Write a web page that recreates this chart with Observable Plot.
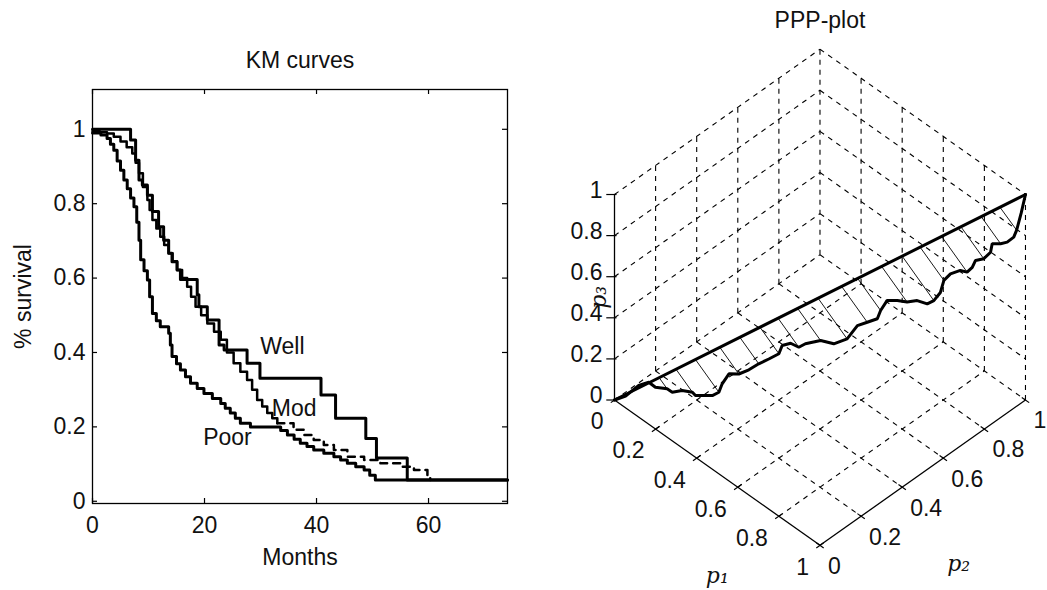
<!DOCTYPE html>
<html><head><meta charset="utf-8">
<script src="https://cdn.jsdelivr.net/npm/d3@7"></script>
<script src="https://cdn.jsdelivr.net/npm/@observablehq/plot@0.6"></script>
<style>
html,body{margin:0;padding:0;background:#fff;}
#wrap{position:relative;width:1047px;height:590px;overflow:hidden;background:#fff;}
#km{position:absolute;left:0;top:0;}
#ppp{position:absolute;left:530px;top:0;}
</style></head>
<body><div id="wrap"><div id="km"></div><div id="ppp"></div></div>
<script>
const FONT = '"Liberation Sans", Arial, Helvetica, sans-serif';
const INK = "#111";

// ---------------- KM curves data ----------------
const wellMonths = [0, 6.8, 7.7, 8.3, 8.9, 9.8, 10.7, 11.8, 12.7, 13.6, 14.2, 15.1, 15.7, 18.7, 19.0, 20.5, 22.6, 23.5, 27.6, 29.9, 40.8, 43.4, 48.8, 50.7, 56.2, 74.1];
const wellSurv   = [1.0, 0.971, 0.917, 0.864, 0.85, 0.823, 0.779, 0.738, 0.702, 0.667, 0.644, 0.622, 0.596, 0.555, 0.523, 0.487, 0.42, 0.407, 0.371, 0.331, 0.286, 0.223, 0.169, 0.116, 0.057, 0.057];

const modMonths = [0, 1.3, 2.6, 3.8, 5.0, 6.1, 7.1, 7.7, 8.3, 9.0, 9.8, 10.2, 10.7, 11.4, 12.1, 12.8, 13.6, 14.3, 15.1, 16.0, 16.9, 17.6, 18.4, 19.4, 20.5, 21.7, 22.9, 24.0, 25.2, 26.4, 27.6, 28.5, 29.4, 30.3, 31.2, 32.1, 33.0];
const modSurv   = [0.995, 0.992, 0.989, 0.98, 0.967, 0.952, 0.935, 0.91, 0.882, 0.845, 0.81, 0.783, 0.756, 0.733, 0.711, 0.689, 0.667, 0.645, 0.622, 0.6, 0.577, 0.55, 0.523, 0.5, 0.478, 0.456, 0.434, 0.4, 0.371, 0.348, 0.326, 0.3, 0.272, 0.255, 0.237, 0.223, 0.21];
const modTailMonths = [33.0, 35.9, 37.7, 39.5, 41.3, 43.1, 45.5, 48.5, 51.4, 55.0, 57.4, 59.8, 60.3];
const modTailSurv   = [0.21, 0.192, 0.178, 0.165, 0.151, 0.138, 0.12, 0.111, 0.102, 0.093, 0.084, 0.066, 0.057];

const poorMonths = [0, 1.5, 2.6, 3.2, 3.8, 4.4, 5.0, 5.6, 6.2, 6.8, 7.4, 7.9, 8.3, 8.6, 9.2, 9.8, 10.2, 10.7, 11.4, 12.1, 13.6, 13.9, 14.2, 15.0, 15.7, 16.6, 17.5, 18.7, 19.9, 21.4, 22.9, 23.7, 24.6, 25.5, 26.4, 28.2, 33.6, 34.8, 36.0, 37.1, 38.3, 39.5, 41.3, 43.1, 44.3, 45.5, 47.0, 48.5, 49.5, 50.5, 74.1];
const poorSurv   = [0.99, 0.985, 0.975, 0.96, 0.944, 0.915, 0.89, 0.864, 0.84, 0.815, 0.792, 0.75, 0.702, 0.649, 0.62, 0.595, 0.55, 0.505, 0.485, 0.469, 0.452, 0.42, 0.389, 0.37, 0.353, 0.335, 0.317, 0.303, 0.29, 0.276, 0.263, 0.25, 0.237, 0.223, 0.21, 0.2, 0.19, 0.178, 0.167, 0.156, 0.147, 0.138, 0.129, 0.12, 0.111, 0.102, 0.093, 0.084, 0.07, 0.057, 0.057];

const kmXTicks = [0, 20, 40, 60];
const kmXTickLabels = ["0", "20", "40", "60"];
const kmYTicks = [0, 0.2, 0.4, 0.6, 0.8, 1];
const kmYTickLabels = ["0", "0.2", "0.4", "0.6", "0.8", "1"];
const curveNames = ["Well", "Mod", "Poor"];
const curveNameMonths = [33.9, 36.0, 24.1];
const curveNameSurv = [0.417, 0.248, 0.172];

// ---------------- PPP-plot data ----------------
const pppTicks = [0, 0.2, 0.4, 0.6, 0.8, 1];
const pppTickLabels = ["0", "0.2", "0.4", "0.6", "0.8", "1"];
const curveP1 = [0, 0.028, 0.057, 0.083, 0.105, 0.139, 0.156, 0.182, 0.212, 0.223, 0.251, 0.270, 0.286, 0.289, 0.301, 0.329, 0.354, 0.377, 0.402, 0.426, 0.429, 0.451, 0.477, 0.493, 0.533, 0.572, 0.606, 0.625, 0.650, 0.676, 0.679, 0.690, 0.718, 0.747, 0.774, 0.805, 0.821, 0.833, 0.834, 0.848, 0.873, 0.893, 0.904, 0.908, 0.930, 0.944, 0.943, 0.966, 0.983, 0.998, 1.0, 1.0, 1.0];
const curveP2 = [0, 0.026, 0.061, 0.084, 0.094, 0.117, 0.125, 0.147, 0.167, 0.171, 0.192, 0.206, 0.222, 0.235, 0.256, 0.276, 0.300, 0.325, 0.349, 0.374, 0.387, 0.406, 0.420, 0.436, 0.470, 0.495, 0.526, 0.557, 0.580, 0.603, 0.616, 0.637, 0.658, 0.677, 0.699, 0.717, 0.733, 0.753, 0.769, 0.787, 0.810, 0.823, 0.837, 0.849, 0.867, 0.886, 0.895, 0.913, 0.928, 0.945, 0.957, 0.979, 1.0];
const curveP3 = [0, 0.021, 0.068, 0.086, 0.070, 0.070, 0.060, 0.071, 0.070, 0.059, 0.064, 0.067, 0.083, 0.117, 0.159, 0.164, 0.185, 0.213, 0.237, 0.262, 0.295, 0.308, 0.297, 0.314, 0.334, 0.328, 0.354, 0.410, 0.428, 0.447, 0.480, 0.522, 0.527, 0.526, 0.537, 0.530, 0.546, 0.580, 0.628, 0.657, 0.675, 0.672, 0.693, 0.721, 0.732, 0.760, 0.794, 0.798, 0.807, 0.830, 0.857, 0.924, 1.0];
const hatchIndex = [5, 8, 12, 15, 17, 19, 22, 24, 26, 28, 30, 33, 36, 38, 41, 44, 47, 50];
const diagonalT = [0, 1];
const axisNames = ["p\u2081", "p\u2082", "p\u2083"];

// ---------------- KM chart ----------------
const rows = (ms, ss) => ms.map((m, i) => ({m, s: ss[i]}));

const km = Plot.plot({
  width: 590, height: 590,
  marginLeft: 92, marginRight: 83, marginTop: 89, marginBottom: 87,
  style: {fontFamily: FONT, fontSize: "23px", color: INK, background: "transparent"},
  x: {domain: [0, 74.1]},
  y: {domain: [-0.006, 1.107]},
  marks: [
    Plot.axisX(kmXTicks, {tickSize: 0, tickPadding: 13, fontSize: 23, label: null,
      tickFormat: d => kmXTickLabels[kmXTicks.indexOf(d)]}),
    Plot.axisY(kmYTicks, {tickSize: 0, tickPadding: 7, fontSize: 23, label: null,
      tickFormat: d => kmYTickLabels[kmYTicks.indexOf(d)]}),
    Plot.tickX(kmXTicks, {x: d => d, insetTop: 409, stroke: "#000", strokeWidth: 1.2}),
    Plot.tickX(kmXTicks, {x: d => d, insetBottom: 409, stroke: "#000", strokeWidth: 1.2}),
    Plot.tickY(kmYTicks, {y: d => d, insetRight: 410, stroke: "#000", strokeWidth: 1.2}),
    Plot.tickY(kmYTicks, {y: d => d, insetLeft: 410, stroke: "#000", strokeWidth: 1.2}),
    Plot.line(rows(modMonths, modSurv), {x: "m", y: "s", curve: "step-after", stroke: "#000", strokeWidth: 2.5}),
    Plot.line(rows(modTailMonths, modTailSurv), {x: "m", y: "s", curve: "step-after", stroke: "#000", strokeWidth: 2.5, strokeDasharray: "7,6"}),
    Plot.line(rows(poorMonths, poorSurv), {x: "m", y: "s", curve: "step-after", stroke: "#000", strokeWidth: 3}),
    Plot.line(rows(wellMonths, wellSurv), {x: "m", y: "s", curve: "step-after", stroke: "#000", strokeWidth: 3}),
    Plot.frame({stroke: "#000", strokeWidth: 1.3}),
    Plot.text(curveNames, {x: (d, i) => curveNameMonths[i], y: (d, i) => curveNameSurv[i], fontSize: 23, fill: INK}),
    Plot.text(["KM curves"], {frameAnchor: "top", lineAnchor: "middle", dy: -29, fontSize: 23, fill: INK}),
    Plot.text(["Months"], {frameAnchor: "bottom", lineAnchor: "middle", dy: 54, fontSize: 23, fill: INK}),
    Plot.text(["% survival"], {frameAnchor: "left", lineAnchor: "middle", textAnchor: "middle", dx: -69, rotate: -90, fontSize: 23, fill: INK})
  ]
});
document.getElementById("km").appendChild(km);

// ---------------- PPP 3-D chart ----------------
const S = Math.SQRT1_2;               // view az = -45 deg, el = 45 deg
const PX = p => (p[0] + p[1]) * S;
const PY = p => (p[1] - p[0]) * 0.5 + p[2] * S;

const grid = [];
pppTicks.forEach(v => {
  if (v < 1) grid.push({a: [v, 0, 0], b: [v, 1, 0]});      // floor, constant p1
  if (v > 0) {
    grid.push({a: [0, v, 0], b: [1, v, 0]});                // floor, constant p2
    grid.push({a: [0, v, 0], b: [0, v, 1]});                // wall p1=0 verticals
    grid.push({a: [0, 0, v], b: [0, 1, v]});                // wall p1=0 horizontals
    grid.push({a: [v, 1, 0], b: [v, 1, 1]});                // wall p2=1 verticals
    grid.push({a: [0, 1, v], b: [1, 1, v]});                // wall p2=1 horizontals
  }
});
const axes3 = [
  {a: [0, 0, 0], b: [0, 0, 1]},
  {a: [0, 0, 0], b: [1, 0, 0]},
  {a: [1, 0, 0], b: [1, 1, 0]}
];
const tickSegs = [];
pppTicks.forEach(v => {
  tickSegs.push({a: [-0.02, -0.02, v], b: [0.005, 0.005, v]});
  tickSegs.push({a: [v, -0.018, 0], b: [v, 0.018, 0]});
  tickSegs.push({a: [1 - 0.018, v, 0], b: [1 + 0.018, v, 0]});
});
const curvePt = i => [curveP1[i], curveP2[i], curveP3[i]];
const curveRows = curveP1.map((d, i) => curvePt(i));
const hatchRows = hatchIndex.map(i => {
  const p = curvePt(i);
  const t = (p[0] + p[1] + p[2]) / 3;
  return {a: p, b: [t, t, t]};
});
const seg = (data, opts) => Plot.link(data, {
  x1: d => PX(d.a), y1: d => PY(d.a), x2: d => PX(d.b), y2: d => PY(d.b),
  stroke: "#000", ...opts
});
const serif = {fontSize: 22, fontStyle: "italic", fontFamily: "DejaVu Serif", fill: INK, lineAnchor: "middle"};

const ppp = Plot.plot({
  width: 517, height: 590, margin: 0,
  style: {fontFamily: FONT, fontSize: "23px", color: INK, background: "transparent"},
  x: {domain: [-0.28906, 1.4900], axis: null},
  y: {domain: [-0.6555, 1.3747], axis: null},
  marks: [
    seg(grid, {strokeWidth: 1.1, strokeDasharray: "5,5"}),
    seg(axes3, {strokeWidth: 1.3}),
    seg(tickSegs, {strokeWidth: 1.2}),
    seg(hatchRows, {strokeWidth: 0.9}),
    Plot.line(diagonalT, {x: t => PX([t, t, t]), y: t => PY([t, t, t]), stroke: "#000", strokeWidth: 3}),
    Plot.line(curveRows, {x: p => PX(p), y: p => PY(p), stroke: "#000", strokeWidth: 3, strokeLinejoin: "miter"}),
    Plot.text(pppTicks, {x: v => PX([0, 0, v]), y: v => PY([0, 0, v]), text: (v, i) => pppTickLabels[i], textAnchor: "end", dx: -12, dy: -4, fontSize: 23, fill: INK}),
    Plot.text(pppTicks, {x: v => PX([v, 0, 0]), y: v => PY([v, 0, 0]), text: (v, i) => pppTickLabels[i], textAnchor: "end", dx: -11, dy: 22, fontSize: 23, fill: INK}),
    Plot.text(pppTicks, {x: v => PX([1, v, 0]), y: v => PY([1, v, 0]), text: (v, i) => pppTickLabels[i], textAnchor: "start", dx: 8, dy: 21, fontSize: 23, fill: INK}),
    Plot.text([axisNames[0]], {x: PX([0.5, 0, 0]), y: PY([0.5, 0, 0]), dy: 103, ...serif}),
    Plot.text([axisNames[1]], {x: PX([1, 0.5, 0]), y: PY([1, 0.5, 0]), dx: 36, dy: 91, ...serif}),
    Plot.text([axisNames[2]], {x: PX([0, 0, 0.5]), y: PY([0, 0, 0.5]), dx: -16, rotate: -90, ...serif}),
    Plot.text(["PPP-plot"], {x: PX([0.5, 0.5, 0]), frameAnchor: "top", lineAnchor: "middle", dy: 20, fontSize: 23, fill: INK})
  ]
});
document.getElementById("ppp").appendChild(ppp);
</script>
</body></html>
